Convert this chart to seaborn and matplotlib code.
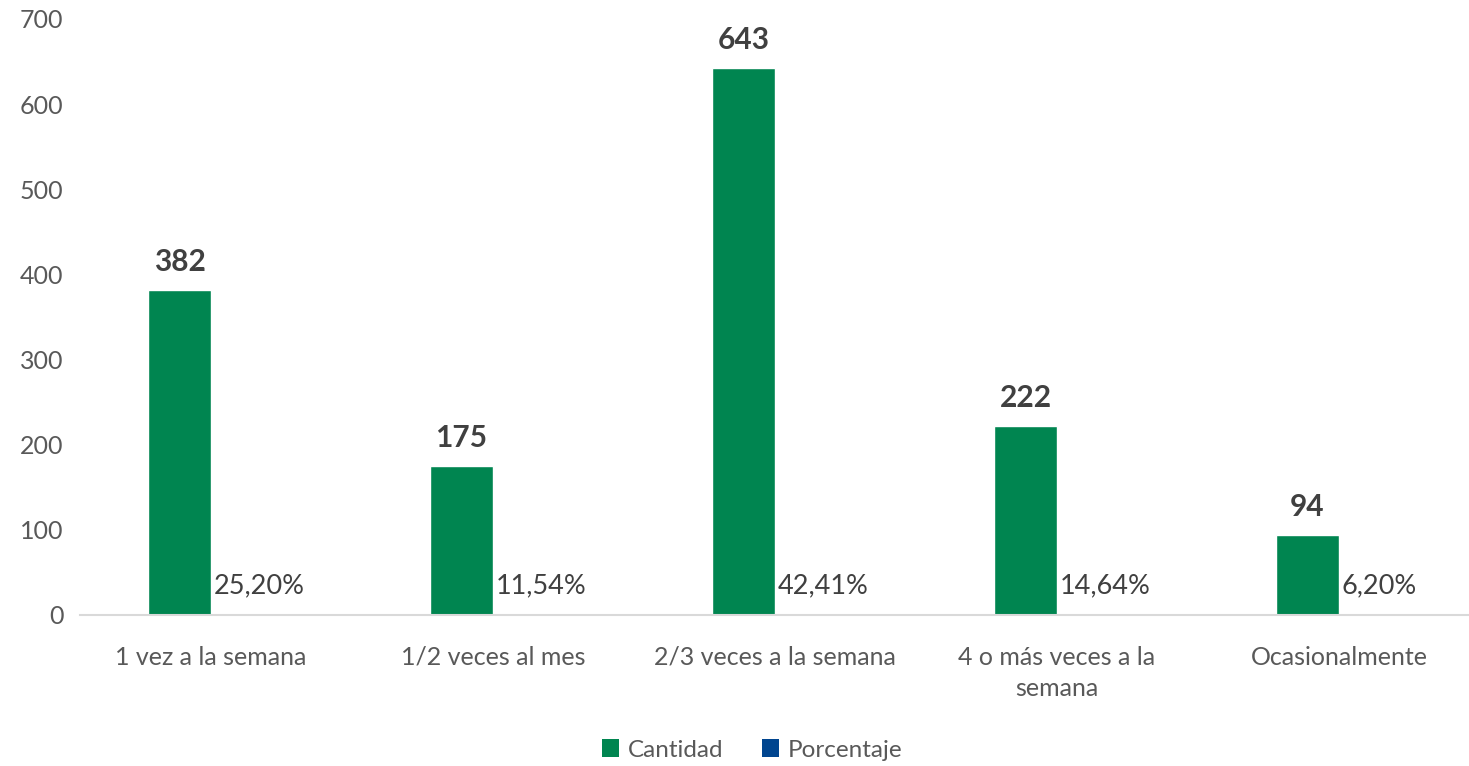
import matplotlib
matplotlib.use("Agg")
import matplotlib.pyplot as plt
from matplotlib.patches import Patch
import seaborn as sns
import pandas as pd

categorias = ["1 vez a la semana", "1/2 veces al mes", "2/3 veces a la semana",
              "4 o más veces a la\nsemana", "Ocasionalmente"]
cantidad = [382, 175, 643, 222, 94]
porcentaje = [0.2520, 0.1154, 0.4241, 0.1464, 0.0620]
series = ["Cantidad", "Porcentaje"]
colores = ["#008550", "#00458F"]

df = pd.DataFrame({
    "categoria": categorias * 2,
    "serie": [series[0]] * len(categorias) + [series[1]] * len(categorias),
    "valor": cantidad + porcentaje,
})

sns.set_theme(style="white")
plt.rcParams["font.family"] = ["Lato", "DejaVu Sans"]

fig = plt.figure(figsize=(14.69, 7.66), dpi=100)
ax = fig.add_axes([80 / 1469, 1 - 615 / 766, 1 - 80 / 1469, (615 - 19) / 766])

sns.barplot(data=df, x="categoria", y="valor", hue="serie", order=categorias,
            hue_order=series, palette=colores, width=0.447, dodge=True,
            saturation=1, legend=False, ax=ax)

ax.set_ylim(0, 700)
ax.set_xlim(-0.4645, 4.461)
ax.set_yticks(range(0, 701, 100))
ax.set_xlabel("")
ax.set_ylabel("")
for s in ["top", "right", "left"]:
    ax.spines[s].set_visible(False)
ax.spines["bottom"].set_color("#D9D9D9")
ax.spines["bottom"].set_linewidth(1.5)
ax.tick_params(axis="both", length=0, colors="#595959")
ax.tick_params(axis="x", pad=22, labelsize=18)
ax.tick_params(axis="y", pad=12, labelsize=18)
for lbl in ax.get_yticklabels():
    lbl.set_horizontalalignment("right")
for lbl in ax.get_xticklabels():
    lbl.set_linespacing(1.45)

bars_cant = ax.containers[0]
bars_pct = ax.containers[1]
for rect, v in zip(bars_cant, cantidad):
    ax.annotate(f"{v}", (rect.get_x() + rect.get_width() / 2, rect.get_height()),
                xytext=(0, 10), textcoords="offset points", ha="center", va="bottom",
                fontsize=21.5, fontweight="bold", color="#404040")
for rect_c, rect_p, p in zip(bars_cant, bars_pct, porcentaje):
    txt = f"{p * 100:.2f}%".replace(".", ",")
    ax.annotate(txt, (rect_c.get_x() + rect_c.get_width(), rect_p.get_height()),
                xytext=(2, 21), textcoords="offset points", ha="left", va="center",
                fontsize=19.5, color="#404040")

handles = [Patch(facecolor=c, edgecolor="none") for c in colores]
fig.legend(handles, series, loc="center", bbox_to_anchor=(752 / 1469, 1 - 750 / 766),
           ncol=2, frameon=False, fontsize=17.5, handlelength=0.7, handleheight=0.7,
           handletextpad=0.35, columnspacing=1.6, labelcolor="#595959")

fig.savefig("out.png", dpi=100)
